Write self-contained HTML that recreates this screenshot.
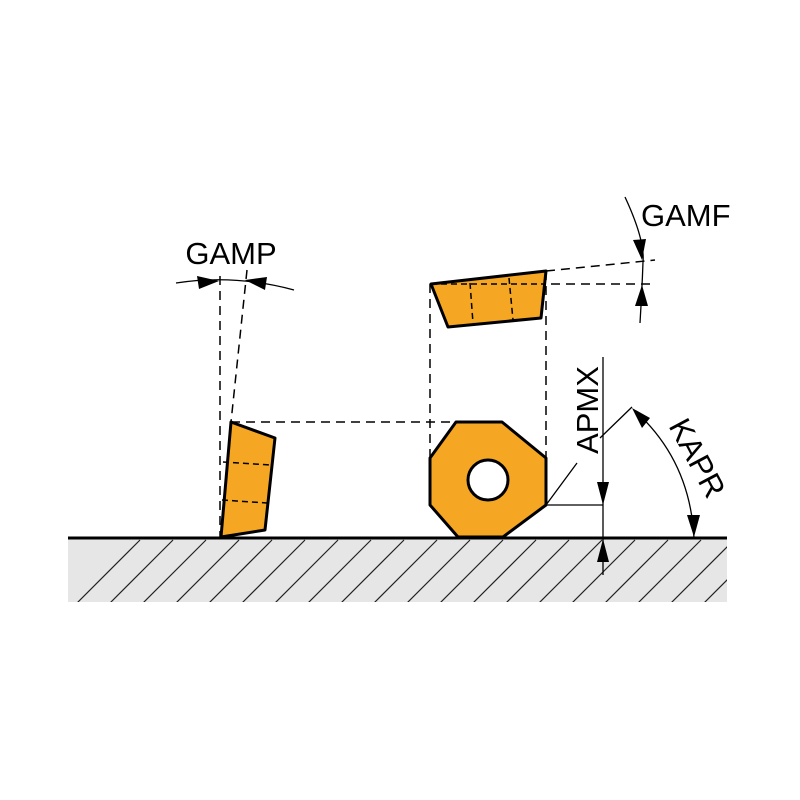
<!DOCTYPE html>
<html><head><style>body{margin:0;background:#fff}svg{display:block}</style></head>
<body>
<svg width="800" height="800" viewBox="0 0 800 800" xmlns="http://www.w3.org/2000/svg" font-family="Liberation Sans, sans-serif">
<defs>
<clipPath id="c"><rect x="68" y="538" width="659" height="64"/></clipPath>
</defs>
<rect x="68" y="538" width="659" height="64" fill="#e6e6e6"/>
<g clip-path="url(#c)" stroke="#222" stroke-width="1.2">
<path d="M40 640 L140 540 M73 640 L173 540 M106 640 L206 540 M139 640 L239 540 M172 640 L272 540 M205 640 L305 540 M238 640 L338 540 M271 640 L371 540 M304 640 L404 540 M337 640 L437 540 M370 640 L470 540 M403 640 L503 540 M436 640 L536 540 M469 640 L569 540 M502 640 L602 540 M535 640 L635 540 M568 640 L668 540 M601 640 L701 540 M634 640 L734 540 M667 640 L767 540 M700 640 L800 540"/>
</g>
<line x1="68" y1="538" x2="727" y2="538" stroke="#000" stroke-width="3"/>
<g stroke="#000" stroke-width="1.5" fill="none" stroke-dasharray="9,6">
<line x1="220" y1="276" x2="220" y2="537"/>
<line x1="247" y1="270" x2="231" y2="422"/>
<line x1="231" y1="422" x2="456" y2="422"/>
<line x1="430" y1="284" x2="430" y2="458"/>
<line x1="546" y1="271" x2="546" y2="505"/>
<line x1="546" y1="271" x2="655" y2="260"/>
<line x1="431" y1="284" x2="655" y2="284"/>
</g>
<polygon points="231,422 275,438 265,530 221,537" fill="#f5a623" stroke="#000" stroke-width="3" stroke-linejoin="round"/>
<g stroke="#000" stroke-width="1.5" stroke-dasharray="6,4"><line x1="223" y1="462" x2="270" y2="465"/><line x1="222" y1="500" x2="267" y2="503"/></g>
<polygon points="431,284 546,271 541,318 448,327" fill="#f5a623" stroke="#000" stroke-width="3" stroke-linejoin="round"/>
<g stroke="#000" stroke-width="1.5" stroke-dasharray="6,4"><line x1="470" y1="283" x2="473" y2="323"/><line x1="509" y1="278" x2="513" y2="320"/><line x1="431" y1="284" x2="546" y2="284"/></g>
<polygon points="456,422 502,422 546,458 546,505 503,537 458,537 430,505 430,458" fill="#f5a623" stroke="#000" stroke-width="3" stroke-linejoin="round"/>
<circle cx="488" cy="480" r="20" fill="#fff" stroke="#000" stroke-width="3"/>
<path d="M176 283 Q235 274 294 290" stroke="#000" stroke-width="1.3" fill="none"/>
<polygon points="219,281 197,276 199,289" fill="#000"/>
<polygon points="245,280 267,277 265,290" fill="#000"/>
<text x="231" y="264" font-size="31" text-anchor="middle">GAMP</text>
<path d="M625 197 Q645 240 643 262 Q642 290 640 323" stroke="#000" stroke-width="1.3" fill="none"/>
<polygon points="642,260 633,240 646,239" fill="#000"/>
<polygon points="642,285 635,306 648,306" fill="#000"/>
<text x="641" y="226" font-size="31">GAMF</text>
<g stroke="#000" stroke-width="1.3">
<line x1="603" y1="357" x2="603" y2="575"/>
<line x1="546" y1="505" x2="603" y2="505"/>
<line x1="546" y1="505" x2="577" y2="463"/>
<line x1="600" y1="438" x2="632" y2="407"/>
</g>
<polygon points="603,505 597,482 609,482" fill="#000"/>
<polygon points="603,539 597,562 609,562" fill="#000"/>
<text transform="translate(598,410) rotate(-90)" font-size="31" text-anchor="middle">APMX</text>
<path d="M634 410 Q690 460 694 538" stroke="#000" stroke-width="1.3" fill="none"/>
<polygon points="632,408 650,418 642,428" fill="#000"/>
<polygon points="694,537 687,515 700,515" fill="#000"/>
<text transform="translate(688,463) rotate(62)" font-size="31" text-anchor="middle">KAPR</text>
</svg>
</body></html>
